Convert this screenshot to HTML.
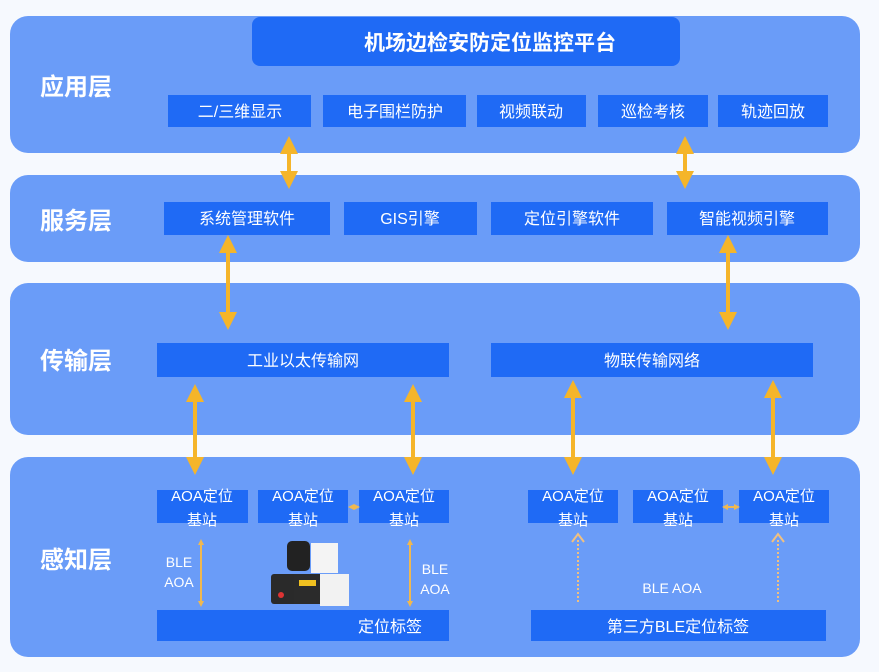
<!DOCTYPE html>
<html><head><meta charset="utf-8"><style>
html,body{margin:0;padding:0;background:#f6f9fe;}
svg{display:block;}
text{font-family:"Liberation Sans","Noto Sans CJK SC",sans-serif;fill:#fff;}
</style></head><body>
<svg width="879" height="672" viewBox="0 0 879 672" xmlns="http://www.w3.org/2000/svg">
<defs>
<marker id="ah" viewBox="0 0 10 10" refX="5" refY="5" markerWidth="4.5" markerHeight="4.5" orient="auto-start-reverse"><path d="M0,0 L10,5 L0,10 z" fill="#f5b52a"/></marker>
<marker id="as" viewBox="0 0 10 10" refX="5" refY="5" markerWidth="3" markerHeight="3" orient="auto-start-reverse"><path d="M0,0 L10,5 L0,10 z" fill="#f0b850"/></marker>
</defs>
<rect width="879" height="672" fill="#f6f9fe"/>
<rect x="10" y="16" width="850" height="137" rx="18" fill="#6a9cf8"/>
<rect x="10" y="175" width="850" height="87" rx="18" fill="#6a9cf8"/>
<rect x="10" y="283" width="850" height="152" rx="18" fill="#6a9cf8"/>
<rect x="10" y="457" width="850" height="200" rx="18" fill="#6a9cf8"/>
<g font-size="24" font-weight="bold">
<text x="40" y="95">应用层</text>
<text x="40" y="229">服务层</text>
<text x="40" y="369">传输层</text>
<text x="40" y="568">感知层</text>
</g>
<g fill="#1f6af5">
<rect x="252" y="17" width="428" height="49" rx="8"/>
<rect x="168" y="95" width="143" height="32"/><rect x="323" y="95" width="143" height="32"/>
<rect x="477" y="95" width="109" height="32"/><rect x="598" y="95" width="110" height="32"/><rect x="718" y="95" width="110" height="32"/>
<rect x="164" y="202" width="166" height="33"/><rect x="344" y="202" width="133" height="33"/>
<rect x="491" y="202" width="162" height="33"/><rect x="667" y="202" width="161" height="33"/>
<rect x="157" y="343" width="292" height="34"/><rect x="491" y="343" width="322" height="34"/>
<rect x="157" y="490" width="91" height="33"/><rect x="258" y="490" width="90" height="33"/><rect x="359" y="490" width="90" height="33"/>
<rect x="528" y="490" width="90" height="33"/><rect x="633" y="490" width="90" height="33"/><rect x="739" y="490" width="90" height="33"/>
<rect x="157" y="610" width="292" height="31"/><rect x="531" y="610" width="295" height="31"/>
</g>
<text x="490" y="50" font-size="21" font-weight="bold" text-anchor="middle">机场边检安防定位监控平台</text>
<g font-size="16" text-anchor="middle">
<text x="240" y="117">二/三维显示</text><text x="395" y="117">电子围栏防护</text>
<text x="531" y="117">视频联动</text><text x="653" y="117">巡检考核</text><text x="773" y="117">轨迹回放</text>
<text x="247" y="224">系统管理软件</text><text x="410" y="224">GIS引擎</text>
<text x="572" y="224">定位引擎软件</text><text x="747" y="224">智能视频引擎</text>
<text x="303" y="366">工业以太传输网</text><text x="652" y="366">物联传输网络</text>
<text x="390" y="632">定位标签</text><text x="678" y="632">第三方BLE定位标签</text>
</g>
<g font-size="15" text-anchor="middle">
<text x="202" y="501">AOA定位</text><text x="202" y="525">基站</text>
<text x="303" y="501">AOA定位</text><text x="303" y="525">基站</text>
<text x="404" y="501">AOA定位</text><text x="404" y="525">基站</text>
<text x="573" y="501">AOA定位</text><text x="573" y="525">基站</text>
<text x="678" y="501">AOA定位</text><text x="678" y="525">基站</text>
<text x="784" y="501">AOA定位</text><text x="784" y="525">基站</text>
</g>
<g font-size="14" text-anchor="middle">
<text x="179" y="567">BLE</text><text x="179" y="587">AOA</text>
<text x="435" y="574">BLE</text><text x="435" y="594">AOA</text>
<text x="672" y="593">BLE AOA</text>
</g>
<g stroke="#f5b52a" stroke-width="4" marker-start="url(#ah)" marker-end="url(#ah)">
<line x1="289" y1="145" x2="289" y2="180"/><line x1="685" y1="145" x2="685" y2="180"/>
<line x1="228" y1="244" x2="228" y2="321"/><line x1="728" y1="244" x2="728" y2="321"/>
<line x1="195" y1="393" x2="195" y2="466"/><line x1="413" y1="393" x2="413" y2="466"/>
<line x1="573" y1="389" x2="573" y2="466"/><line x1="773" y1="389" x2="773" y2="466"/>
</g>
<g stroke="#f0b850" stroke-width="2" marker-start="url(#as)" marker-end="url(#as)">
<line x1="201" y1="542" x2="201" y2="604"/><line x1="410" y1="542" x2="410" y2="604"/>
<line x1="351" y1="507" x2="357" y2="507"/><line x1="725" y1="507" x2="737" y2="507"/>
</g>
<g stroke="#f0c080" stroke-width="2" stroke-dasharray="2,2">
<line x1="578" y1="540" x2="578" y2="603"/><line x1="778" y1="540" x2="778" y2="603"/>
</g>
<path d="M572,542 L578,534 L584,542" fill="none" stroke="#f0c080" stroke-width="2"/>
<path d="M772,542 L778,534 L784,542" fill="none" stroke="#f0c080" stroke-width="2"/>
<rect x="287" y="541" width="23" height="30" rx="5" fill="#222"/>
<rect x="311" y="543" width="27" height="30" fill="#f4f4f4"/>
<rect x="271" y="574" width="28" height="30" rx="3" fill="#2a2a2a"/>
<circle cx="281" cy="595" r="3" fill="#d33"/>
<rect x="294" y="574" width="27" height="30" fill="#2b2b2b"/>
<rect x="299" y="580" width="17" height="6" fill="#f0c020"/>
<rect x="320" y="574" width="29" height="32" fill="#f2f2f2"/>
</svg>
</body></html>
